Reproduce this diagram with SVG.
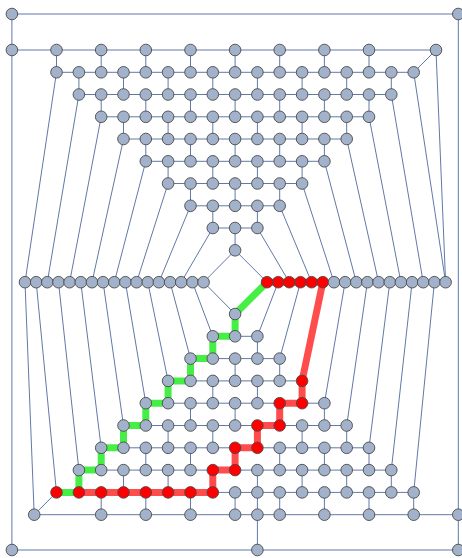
<svg xmlns="http://www.w3.org/2000/svg" width="462" height="558" viewBox="0 0 462 558">
<style>
.e{stroke:#6079a9;stroke-width:1;fill:none}
.hg{stroke:#46ef46;stroke-width:7;fill:none;stroke-linejoin:miter}
.hr{stroke:#ff4d4d;stroke-width:7;fill:none;stroke-linejoin:miter}
#nodes circle{fill:#a2b2cb;stroke:#4a4a4a;stroke-width:0.9}
#nodes .red circle{fill:#ff0000}
</style>
<rect width="462" height="558" fill="#ffffff"/>
<g id="connectors">
<path class="e" d="M11.9 14H458.3M11.9 14V550M458.3 14V550M11.9 550H458.3M257.4 514.7V550"/>
<path class="e" d="M11.9 50H436M56.5 72.3H413.7M78.9 94.5H391.3M101.2 116.8H369M123.5 139H346.7M145.8 161.3H324.4M168.1 183.5H302.1M190.5 205.8H279.7M212.8 228H257.4"/>
<path class="e" d="M212.8 336.3H257.4M190.5 358.6H279.7M168.1 380.9H302.1M145.8 403.2H324.4M123.5 425.5H346.7M101.2 447.8H369M78.9 470.1H391.3M56.5 492.4H413.7M34.2 514.7H458.3"/>
<path class="e" d="M56.5 50V72.3M101.2 50V72.3M145.8 50V72.3M190.5 50V72.3M235.1 50V72.3M279.7 50V72.3M324.4 50V72.3M369 50V72.3M436 50L413.7 72.3
M78.9 72.3V94.5M123.5 72.3V94.5M168.1 72.3V94.5M212.8 72.3V94.5M257.4 72.3V94.5M302.1 72.3V94.5M346.7 72.3V94.5M391.3 72.3V94.5
M101.2 94.5V116.8M145.8 94.5V116.8M190.5 94.5V116.8M235.1 94.5V116.8M279.7 94.5V116.8M324.4 94.5V116.8M369 94.5V116.8
M123.5 116.8V139M168.1 116.8V139M212.8 116.8V139M257.4 116.8V139M302.1 116.8V139M346.7 116.8V139
M145.8 139V161.3M190.5 139V161.3M235.1 139V161.3M279.7 139V161.3M324.4 139V161.3
M168.1 161.3V183.5M212.8 161.3V183.5M257.4 161.3V183.5M302.1 161.3V183.5
M190.5 183.5V205.8M235.1 183.5V205.8M279.7 183.5V205.8
M212.8 205.8V228M257.4 205.8V228
M235.1 228V250.3"/>
<path class="e" d="M235.1 314V336.3
M212.8 336.3V358.6M257.4 336.3V358.6
M190.5 358.6V380.9M235.1 358.6V380.9M279.7 358.6V380.9
M168.1 380.9V403.2M212.8 380.9V403.2M257.4 380.9V403.2M302.1 380.9V403.2
M145.8 403.2V425.5M190.5 403.2V425.5M235.1 403.2V425.5M279.7 403.2V425.5M324.4 403.2V425.5
M123.5 425.5V447.8M168.1 425.5V447.8M212.8 425.5V447.8M257.4 425.5V447.8M302.1 425.5V447.8M346.7 425.5V447.8
M101.2 447.8V470.1M145.8 447.8V470.1M190.5 447.8V470.1M235.1 447.8V470.1M279.7 447.8V470.1M324.4 447.8V470.1M369 447.8V470.1
M78.9 470.1V492.4M123.5 470.1V492.4M168.1 470.1V492.4M212.8 470.1V492.4M257.4 470.1V492.4M302.1 470.1V492.4M346.7 470.1V492.4M391.3 470.1V492.4
M101.2 492.4V514.7M145.8 492.4V514.7M190.5 492.4V514.7M235.1 492.4V514.7M257.4 492.4V514.7M279.7 492.4V514.7M324.4 492.4V514.7M369 492.4V514.7M413.7 492.4V514.7M56.5 492.4L34.2 514.7"/>
<path class="e" d="M56.5 72.3L25 282.2M78.9 94.5L47.3 282.2M101.2 116.8L69.6 282.2M123.5 139L92 282.2M145.8 161.3L114.3 282.2M168.1 183.5L136.6 282.2M190.5 205.8L158.9 282.2M212.8 228L181.2 282.2M235.1 250.3L203.6 282.2
M235.1 250.3L267 282.2M257.4 228L289.3 282.2M279.7 205.8L311.6 282.2M302.1 183.5L334 282.2M324.4 161.3L356.3 282.2M346.7 139L378.6 282.2M369 116.8L400.9 282.2M391.3 94.5L423.2 282.2M413.7 72.3L445.6 282.2M436 50L445.6 282.2"/>
<path class="e" d="M235.1 314L203.6 282.2M235.1 314L267 282.2M212.8 336.3L192.4 282.2M190.5 358.6L170.1 282.2M168.1 380.9L147.8 282.2M145.8 403.2L125.4 282.2M123.5 425.5L103.1 282.2M101.2 447.8L80.8 282.2M78.9 470.1L58.5 282.2M56.5 492.4L36.2 282.2M34.2 514.7L25 282.2
M257.4 336.3L278.2 282.2M279.7 358.6L300.5 282.2M302.1 380.9L322.8 282.2M324.4 403.2L345.1 282.2M346.7 425.5L367.4 282.2M369 447.8L389.8 282.2M391.3 470.1L412.1 282.2M413.7 492.4L434.4 282.2"/>
<path class="hg" d="M267 282.2L235.1 314L235.1 336.3L212.8 336.3L212.8 358.6L190.5 358.6L190.5 380.9L168.1 380.9L168.1 403.2L145.8 403.2L145.8 425.5L123.5 425.5L123.5 447.8L101.2 447.8L101.2 470.1L78.9 470.1L78.9 492.4L56.5 492.4"/>
<path class="hr" d="M78.9 492.4H212.8V470.1H235.1V447.8H257.4V425.5H279.7V403.2H302.1V380.9L322.8 282.2H267"/>
</g>
<g id="nodes">
<g id="o-tl"><circle cx="11.9" cy="14" r="5.8"/></g>
<g id="o-tr"><circle cx="458.3" cy="14" r="5.8"/></g>
<g id="r1-0"><circle cx="11.9" cy="50" r="5.8"/></g>
<g id="r1-2"><circle cx="56.5" cy="50" r="5.8"/></g>
<g id="r1-4"><circle cx="101.2" cy="50" r="5.8"/></g>
<g id="r1-6"><circle cx="145.8" cy="50" r="5.8"/></g>
<g id="r1-8"><circle cx="190.5" cy="50" r="5.8"/></g>
<g id="r1-10"><circle cx="235.1" cy="50" r="5.8"/></g>
<g id="r1-12"><circle cx="279.7" cy="50" r="5.8"/></g>
<g id="r1-14"><circle cx="324.4" cy="50" r="5.8"/></g>
<g id="r1-16"><circle cx="369" cy="50" r="5.8"/></g>
<g id="r1-19"><circle cx="436" cy="50" r="5.8"/></g>
<g id="r2-2"><circle cx="56.5" cy="72.3" r="5.8"/></g>
<g id="r2-3"><circle cx="78.9" cy="72.3" r="5.8"/></g>
<g id="r2-4"><circle cx="101.2" cy="72.3" r="5.8"/></g>
<g id="r2-5"><circle cx="123.5" cy="72.3" r="5.8"/></g>
<g id="r2-6"><circle cx="145.8" cy="72.3" r="5.8"/></g>
<g id="r2-7"><circle cx="168.1" cy="72.3" r="5.8"/></g>
<g id="r2-8"><circle cx="190.5" cy="72.3" r="5.8"/></g>
<g id="r2-9"><circle cx="212.8" cy="72.3" r="5.8"/></g>
<g id="r2-10"><circle cx="235.1" cy="72.3" r="5.8"/></g>
<g id="r2-11"><circle cx="257.4" cy="72.3" r="5.8"/></g>
<g id="r2-12"><circle cx="279.7" cy="72.3" r="5.8"/></g>
<g id="r2-13"><circle cx="302.1" cy="72.3" r="5.8"/></g>
<g id="r2-14"><circle cx="324.4" cy="72.3" r="5.8"/></g>
<g id="r2-15"><circle cx="346.7" cy="72.3" r="5.8"/></g>
<g id="r2-16"><circle cx="369" cy="72.3" r="5.8"/></g>
<g id="r2-17"><circle cx="391.3" cy="72.3" r="5.8"/></g>
<g id="r2-18"><circle cx="413.7" cy="72.3" r="5.8"/></g>
<g id="r3-3"><circle cx="78.9" cy="94.5" r="5.8"/></g>
<g id="r3-4"><circle cx="101.2" cy="94.5" r="5.8"/></g>
<g id="r3-5"><circle cx="123.5" cy="94.5" r="5.8"/></g>
<g id="r3-6"><circle cx="145.8" cy="94.5" r="5.8"/></g>
<g id="r3-7"><circle cx="168.1" cy="94.5" r="5.8"/></g>
<g id="r3-8"><circle cx="190.5" cy="94.5" r="5.8"/></g>
<g id="r3-9"><circle cx="212.8" cy="94.5" r="5.8"/></g>
<g id="r3-10"><circle cx="235.1" cy="94.5" r="5.8"/></g>
<g id="r3-11"><circle cx="257.4" cy="94.5" r="5.8"/></g>
<g id="r3-12"><circle cx="279.7" cy="94.5" r="5.8"/></g>
<g id="r3-13"><circle cx="302.1" cy="94.5" r="5.8"/></g>
<g id="r3-14"><circle cx="324.4" cy="94.5" r="5.8"/></g>
<g id="r3-15"><circle cx="346.7" cy="94.5" r="5.8"/></g>
<g id="r3-16"><circle cx="369" cy="94.5" r="5.8"/></g>
<g id="r3-17"><circle cx="391.3" cy="94.5" r="5.8"/></g>
<g id="r4-4"><circle cx="101.2" cy="116.8" r="5.8"/></g>
<g id="r4-5"><circle cx="123.5" cy="116.8" r="5.8"/></g>
<g id="r4-6"><circle cx="145.8" cy="116.8" r="5.8"/></g>
<g id="r4-7"><circle cx="168.1" cy="116.8" r="5.8"/></g>
<g id="r4-8"><circle cx="190.5" cy="116.8" r="5.8"/></g>
<g id="r4-9"><circle cx="212.8" cy="116.8" r="5.8"/></g>
<g id="r4-10"><circle cx="235.1" cy="116.8" r="5.8"/></g>
<g id="r4-11"><circle cx="257.4" cy="116.8" r="5.8"/></g>
<g id="r4-12"><circle cx="279.7" cy="116.8" r="5.8"/></g>
<g id="r4-13"><circle cx="302.1" cy="116.8" r="5.8"/></g>
<g id="r4-14"><circle cx="324.4" cy="116.8" r="5.8"/></g>
<g id="r4-15"><circle cx="346.7" cy="116.8" r="5.8"/></g>
<g id="r4-16"><circle cx="369" cy="116.8" r="5.8"/></g>
<g id="r5-5"><circle cx="123.5" cy="139" r="5.8"/></g>
<g id="r5-6"><circle cx="145.8" cy="139" r="5.8"/></g>
<g id="r5-7"><circle cx="168.1" cy="139" r="5.8"/></g>
<g id="r5-8"><circle cx="190.5" cy="139" r="5.8"/></g>
<g id="r5-9"><circle cx="212.8" cy="139" r="5.8"/></g>
<g id="r5-10"><circle cx="235.1" cy="139" r="5.8"/></g>
<g id="r5-11"><circle cx="257.4" cy="139" r="5.8"/></g>
<g id="r5-12"><circle cx="279.7" cy="139" r="5.8"/></g>
<g id="r5-13"><circle cx="302.1" cy="139" r="5.8"/></g>
<g id="r5-14"><circle cx="324.4" cy="139" r="5.8"/></g>
<g id="r5-15"><circle cx="346.7" cy="139" r="5.8"/></g>
<g id="r6-6"><circle cx="145.8" cy="161.3" r="5.8"/></g>
<g id="r6-7"><circle cx="168.1" cy="161.3" r="5.8"/></g>
<g id="r6-8"><circle cx="190.5" cy="161.3" r="5.8"/></g>
<g id="r6-9"><circle cx="212.8" cy="161.3" r="5.8"/></g>
<g id="r6-10"><circle cx="235.1" cy="161.3" r="5.8"/></g>
<g id="r6-11"><circle cx="257.4" cy="161.3" r="5.8"/></g>
<g id="r6-12"><circle cx="279.7" cy="161.3" r="5.8"/></g>
<g id="r6-13"><circle cx="302.1" cy="161.3" r="5.8"/></g>
<g id="r6-14"><circle cx="324.4" cy="161.3" r="5.8"/></g>
<g id="r7-7"><circle cx="168.1" cy="183.5" r="5.8"/></g>
<g id="r7-8"><circle cx="190.5" cy="183.5" r="5.8"/></g>
<g id="r7-9"><circle cx="212.8" cy="183.5" r="5.8"/></g>
<g id="r7-10"><circle cx="235.1" cy="183.5" r="5.8"/></g>
<g id="r7-11"><circle cx="257.4" cy="183.5" r="5.8"/></g>
<g id="r7-12"><circle cx="279.7" cy="183.5" r="5.8"/></g>
<g id="r7-13"><circle cx="302.1" cy="183.5" r="5.8"/></g>
<g id="r8-8"><circle cx="190.5" cy="205.8" r="5.8"/></g>
<g id="r8-9"><circle cx="212.8" cy="205.8" r="5.8"/></g>
<g id="r8-10"><circle cx="235.1" cy="205.8" r="5.8"/></g>
<g id="r8-11"><circle cx="257.4" cy="205.8" r="5.8"/></g>
<g id="r8-12"><circle cx="279.7" cy="205.8" r="5.8"/></g>
<g id="r9-9"><circle cx="212.8" cy="228" r="5.8"/></g>
<g id="r9-10"><circle cx="235.1" cy="228" r="5.8"/></g>
<g id="r9-11"><circle cx="257.4" cy="228" r="5.8"/></g>
<g id="r10-10"><circle cx="235.1" cy="250.3" r="5.8"/></g>
<g id="ml0"><circle cx="25" cy="282.2" r="5.8"/></g>
<g id="ml1"><circle cx="36.2" cy="282.2" r="5.8"/></g>
<g id="ml2"><circle cx="47.3" cy="282.2" r="5.8"/></g>
<g id="ml3"><circle cx="58.5" cy="282.2" r="5.8"/></g>
<g id="ml4"><circle cx="69.6" cy="282.2" r="5.8"/></g>
<g id="ml5"><circle cx="80.8" cy="282.2" r="5.8"/></g>
<g id="ml6"><circle cx="92" cy="282.2" r="5.8"/></g>
<g id="ml7"><circle cx="103.1" cy="282.2" r="5.8"/></g>
<g id="ml8"><circle cx="114.3" cy="282.2" r="5.8"/></g>
<g id="ml9"><circle cx="125.4" cy="282.2" r="5.8"/></g>
<g id="ml10"><circle cx="136.6" cy="282.2" r="5.8"/></g>
<g id="ml11"><circle cx="147.8" cy="282.2" r="5.8"/></g>
<g id="ml12"><circle cx="158.9" cy="282.2" r="5.8"/></g>
<g id="ml13"><circle cx="170.1" cy="282.2" r="5.8"/></g>
<g id="ml14"><circle cx="181.2" cy="282.2" r="5.8"/></g>
<g id="ml15"><circle cx="192.4" cy="282.2" r="5.8"/></g>
<g id="ml16"><circle cx="203.6" cy="282.2" r="5.8"/></g>
<g id="mr0" class="red"><circle cx="267" cy="282.2" r="5.8"/></g>
<g id="mr1" class="red"><circle cx="278.2" cy="282.2" r="5.8"/></g>
<g id="mr2" class="red"><circle cx="289.3" cy="282.2" r="5.8"/></g>
<g id="mr3" class="red"><circle cx="300.5" cy="282.2" r="5.8"/></g>
<g id="mr4" class="red"><circle cx="311.6" cy="282.2" r="5.8"/></g>
<g id="mr5" class="red"><circle cx="322.8" cy="282.2" r="5.8"/></g>
<g id="mr6"><circle cx="334" cy="282.2" r="5.8"/></g>
<g id="mr7"><circle cx="345.1" cy="282.2" r="5.8"/></g>
<g id="mr8"><circle cx="356.3" cy="282.2" r="5.8"/></g>
<g id="mr9"><circle cx="367.4" cy="282.2" r="5.8"/></g>
<g id="mr10"><circle cx="378.6" cy="282.2" r="5.8"/></g>
<g id="mr11"><circle cx="389.8" cy="282.2" r="5.8"/></g>
<g id="mr12"><circle cx="400.9" cy="282.2" r="5.8"/></g>
<g id="mr13"><circle cx="412.1" cy="282.2" r="5.8"/></g>
<g id="mr14"><circle cx="423.2" cy="282.2" r="5.8"/></g>
<g id="mr15"><circle cx="434.4" cy="282.2" r="5.8"/></g>
<g id="mr16"><circle cx="445.6" cy="282.2" r="5.8"/></g>
<g id="b1-10"><circle cx="235.1" cy="314" r="5.8"/></g>
<g id="b2-9"><circle cx="212.8" cy="336.3" r="5.8"/></g>
<g id="b2-10"><circle cx="235.1" cy="336.3" r="5.8"/></g>
<g id="b2-11"><circle cx="257.4" cy="336.3" r="5.8"/></g>
<g id="b3-8"><circle cx="190.5" cy="358.6" r="5.8"/></g>
<g id="b3-9"><circle cx="212.8" cy="358.6" r="5.8"/></g>
<g id="b3-10"><circle cx="235.1" cy="358.6" r="5.8"/></g>
<g id="b3-11"><circle cx="257.4" cy="358.6" r="5.8"/></g>
<g id="b3-12"><circle cx="279.7" cy="358.6" r="5.8"/></g>
<g id="b4-7"><circle cx="168.1" cy="380.9" r="5.8"/></g>
<g id="b4-8"><circle cx="190.5" cy="380.9" r="5.8"/></g>
<g id="b4-9"><circle cx="212.8" cy="380.9" r="5.8"/></g>
<g id="b4-10"><circle cx="235.1" cy="380.9" r="5.8"/></g>
<g id="b4-11"><circle cx="257.4" cy="380.9" r="5.8"/></g>
<g id="b4-12"><circle cx="279.7" cy="380.9" r="5.8"/></g>
<g id="b4-13" class="red"><circle cx="302.1" cy="380.9" r="5.8"/></g>
<g id="b5-6"><circle cx="145.8" cy="403.2" r="5.8"/></g>
<g id="b5-7"><circle cx="168.1" cy="403.2" r="5.8"/></g>
<g id="b5-8"><circle cx="190.5" cy="403.2" r="5.8"/></g>
<g id="b5-9"><circle cx="212.8" cy="403.2" r="5.8"/></g>
<g id="b5-10"><circle cx="235.1" cy="403.2" r="5.8"/></g>
<g id="b5-11"><circle cx="257.4" cy="403.2" r="5.8"/></g>
<g id="b5-12" class="red"><circle cx="279.7" cy="403.2" r="5.8"/></g>
<g id="b5-13" class="red"><circle cx="302.1" cy="403.2" r="5.8"/></g>
<g id="b5-14"><circle cx="324.4" cy="403.2" r="5.8"/></g>
<g id="b6-5"><circle cx="123.5" cy="425.5" r="5.8"/></g>
<g id="b6-6"><circle cx="145.8" cy="425.5" r="5.8"/></g>
<g id="b6-7"><circle cx="168.1" cy="425.5" r="5.8"/></g>
<g id="b6-8"><circle cx="190.5" cy="425.5" r="5.8"/></g>
<g id="b6-9"><circle cx="212.8" cy="425.5" r="5.8"/></g>
<g id="b6-10"><circle cx="235.1" cy="425.5" r="5.8"/></g>
<g id="b6-11" class="red"><circle cx="257.4" cy="425.5" r="5.8"/></g>
<g id="b6-12" class="red"><circle cx="279.7" cy="425.5" r="5.8"/></g>
<g id="b6-13"><circle cx="302.1" cy="425.5" r="5.8"/></g>
<g id="b6-14"><circle cx="324.4" cy="425.5" r="5.8"/></g>
<g id="b6-15"><circle cx="346.7" cy="425.5" r="5.8"/></g>
<g id="b7-4"><circle cx="101.2" cy="447.8" r="5.8"/></g>
<g id="b7-5"><circle cx="123.5" cy="447.8" r="5.8"/></g>
<g id="b7-6"><circle cx="145.8" cy="447.8" r="5.8"/></g>
<g id="b7-7"><circle cx="168.1" cy="447.8" r="5.8"/></g>
<g id="b7-8"><circle cx="190.5" cy="447.8" r="5.8"/></g>
<g id="b7-9"><circle cx="212.8" cy="447.8" r="5.8"/></g>
<g id="b7-10" class="red"><circle cx="235.1" cy="447.8" r="5.8"/></g>
<g id="b7-11" class="red"><circle cx="257.4" cy="447.8" r="5.8"/></g>
<g id="b7-12"><circle cx="279.7" cy="447.8" r="5.8"/></g>
<g id="b7-13"><circle cx="302.1" cy="447.8" r="5.8"/></g>
<g id="b7-14"><circle cx="324.4" cy="447.8" r="5.8"/></g>
<g id="b7-15"><circle cx="346.7" cy="447.8" r="5.8"/></g>
<g id="b7-16"><circle cx="369" cy="447.8" r="5.8"/></g>
<g id="b8-3"><circle cx="78.9" cy="470.1" r="5.8"/></g>
<g id="b8-4"><circle cx="101.2" cy="470.1" r="5.8"/></g>
<g id="b8-5"><circle cx="123.5" cy="470.1" r="5.8"/></g>
<g id="b8-6"><circle cx="145.8" cy="470.1" r="5.8"/></g>
<g id="b8-7"><circle cx="168.1" cy="470.1" r="5.8"/></g>
<g id="b8-8"><circle cx="190.5" cy="470.1" r="5.8"/></g>
<g id="b8-9" class="red"><circle cx="212.8" cy="470.1" r="5.8"/></g>
<g id="b8-10" class="red"><circle cx="235.1" cy="470.1" r="5.8"/></g>
<g id="b8-11"><circle cx="257.4" cy="470.1" r="5.8"/></g>
<g id="b8-12"><circle cx="279.7" cy="470.1" r="5.8"/></g>
<g id="b8-13"><circle cx="302.1" cy="470.1" r="5.8"/></g>
<g id="b8-14"><circle cx="324.4" cy="470.1" r="5.8"/></g>
<g id="b8-15"><circle cx="346.7" cy="470.1" r="5.8"/></g>
<g id="b8-16"><circle cx="369" cy="470.1" r="5.8"/></g>
<g id="b8-17"><circle cx="391.3" cy="470.1" r="5.8"/></g>
<g id="b9-2" class="red"><circle cx="56.5" cy="492.4" r="5.8"/></g>
<g id="b9-3" class="red"><circle cx="78.9" cy="492.4" r="5.8"/></g>
<g id="b9-4" class="red"><circle cx="101.2" cy="492.4" r="5.8"/></g>
<g id="b9-5" class="red"><circle cx="123.5" cy="492.4" r="5.8"/></g>
<g id="b9-6" class="red"><circle cx="145.8" cy="492.4" r="5.8"/></g>
<g id="b9-7" class="red"><circle cx="168.1" cy="492.4" r="5.8"/></g>
<g id="b9-8" class="red"><circle cx="190.5" cy="492.4" r="5.8"/></g>
<g id="b9-9" class="red"><circle cx="212.8" cy="492.4" r="5.8"/></g>
<g id="b9-10"><circle cx="235.1" cy="492.4" r="5.8"/></g>
<g id="b9-11"><circle cx="257.4" cy="492.4" r="5.8"/></g>
<g id="b9-12"><circle cx="279.7" cy="492.4" r="5.8"/></g>
<g id="b9-13"><circle cx="302.1" cy="492.4" r="5.8"/></g>
<g id="b9-14"><circle cx="324.4" cy="492.4" r="5.8"/></g>
<g id="b9-15"><circle cx="346.7" cy="492.4" r="5.8"/></g>
<g id="b9-16"><circle cx="369" cy="492.4" r="5.8"/></g>
<g id="b9-17"><circle cx="391.3" cy="492.4" r="5.8"/></g>
<g id="b9-18"><circle cx="413.7" cy="492.4" r="5.8"/></g>
<g id="b10-1"><circle cx="34.2" cy="514.7" r="5.8"/></g>
<g id="b10-4"><circle cx="101.2" cy="514.7" r="5.8"/></g>
<g id="b10-6"><circle cx="145.8" cy="514.7" r="5.8"/></g>
<g id="b10-8"><circle cx="190.5" cy="514.7" r="5.8"/></g>
<g id="b10-10"><circle cx="235.1" cy="514.7" r="5.8"/></g>
<g id="b10-11"><circle cx="257.4" cy="514.7" r="5.8"/></g>
<g id="b10-12"><circle cx="279.7" cy="514.7" r="5.8"/></g>
<g id="b10-14"><circle cx="324.4" cy="514.7" r="5.8"/></g>
<g id="b10-16"><circle cx="369" cy="514.7" r="5.8"/></g>
<g id="b10-18"><circle cx="413.7" cy="514.7" r="5.8"/></g>
<g id="b10-20"><circle cx="458.3" cy="514.7" r="5.8"/></g>
<g id="o-bl"><circle cx="11.9" cy="550" r="5.8"/></g>
<g id="o-bm"><circle cx="257.4" cy="550" r="5.8"/></g>
<g id="o-br"><circle cx="458.3" cy="550" r="5.8"/></g>
</g>
</svg>
